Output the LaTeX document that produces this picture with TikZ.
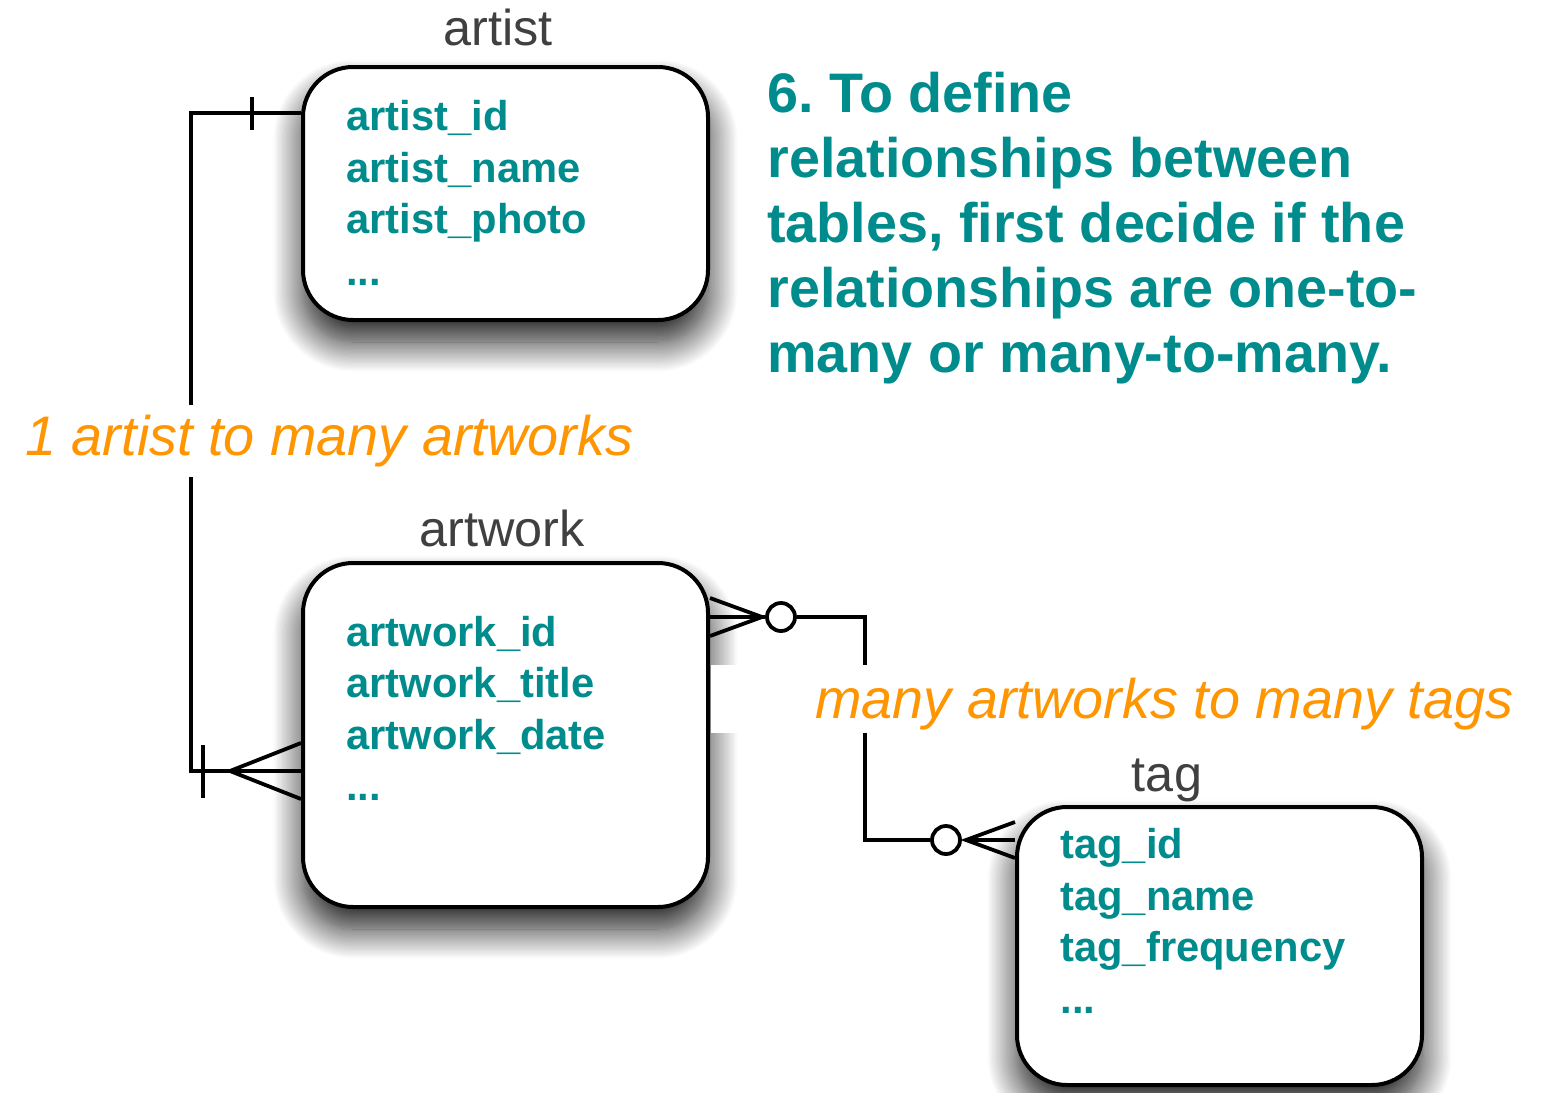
\documentclass[tikz,border=0pt]{standalone}
\usepackage{fontspec}
\setmainfont{Liberation Sans}
\usetikzlibrary{shadows.blur}
\definecolor{fieldc}{RGB}{0,140,140}
\definecolor{orng}{RGB}{255,149,0}
\definecolor{gry}{RGB}{64,64,64}
\begin{document}
\begin{tikzpicture}[x=0.5pt,y=-0.5pt,
  tbl/.style={draw=black, line width=2pt, rounded corners=25pt, fill=white,
    minimum width=202.5pt, inner sep=0pt,
    blur shadow={shadow xshift=0pt, shadow yshift=-11pt, shadow blur radius=15pt,
      shadow opacity=90, shadow blur steps=24}},
  tname/.style={text=gry, font=\fontsize{25.2}{30}\selectfont, anchor=base, inner sep=0pt},
  fld/.style={text=fieldc, font=\bfseries\fontsize{20.85}{26}\selectfont, anchor=base west, inner sep=0pt},
  ttl/.style={text=fieldc, font=\bfseries\fontsize{27.85}{32.5}\selectfont, anchor=base west, inner sep=0pt},
  rel/.style={text=orng, font=\itshape\fontsize{27.9}{32}\selectfont, anchor=base west},
  conn/.style={line width=1.9pt, line join=miter},
  ring/.style={circle, draw=black, line width=1.9pt, fill=white, minimum size=14pt, inner sep=0pt}
]
\useasboundingbox (0,0) rectangle (1560,1093);

% tables
\node[tbl, minimum height=126.5pt] (artist) at (505.5,193.5) {};
\node[tbl, minimum height=172pt] (artwork) at (505.5,735) {};
\node[tbl, minimum height=139pt] (tag) at (1219.5,946) {};

% white band behind the many-to-many label
\fill[white] (711,665) rectangle (1525,733);

% table names
\node[tname] (nartist) at (498,45) {artist};
\node[tname] (nartwork) at (502,546) {artwork};
\node[tname] (ntag) at (1167,791) {tag};

% fields
\node[fld] (f11) at (346,130) {artist\_id};
\node[fld] (f12) at (346,182) {artist\_name};
\node[fld] (f13) at (346,233) {artist\_photo};
\node[fld] (f14) at (346,285) {...};

\node[fld] (f21) at (346,646) {artwork\_id};
\node[fld] (f22) at (346,697) {artwork\_title};
\node[fld] (f23) at (346,749) {artwork\_date};
\node[fld] (f24) at (346,800) {...};

\node[fld] (f31) at (1060,858) {tag\_id};
\node[fld] (f32) at (1060,910) {tag\_name};
\node[fld] (f33) at (1060,961) {tag\_frequency};
\node[fld] (f34) at (1060,1013) {...};

% title
\node[ttl] (t1) at (767,112) {6.\ To define};
\node[ttl] (t2) at (767,177) {relationships between};
\node[ttl] (t3) at (767,242) {tables, first decide if the};
\node[ttl] (t4) at (767,307) {relationships are one-to-};
\node[ttl] (t5) at (767,372) {many or many-to-many.};

% one-to-many connector
\coordinate (a1) at (artist.west |- 0,113);
\coordinate (a2) at (artwork.west |- 0,771);
\coordinate (a2u) at (artwork.west |- 0,743);
\coordinate (a2d) at (artwork.west |- 0,799);
\coordinate (cf1) at (230,771);
\draw[conn] (a1) -- (191,113) -- (191,771) -- (a2);
\draw[conn] (252,97) -- (252,130);
\draw[conn] (203,745) -- (203,798);
\draw[conn] (a2u) -- (cf1) -- (a2d);
\node[rel, fill=white, inner xsep=3pt, inner ysep=5pt] (r1) at (19,455) {1 artist to many artworks};

% many-to-many connector
\node[ring] (c1) at (781,617) {};
\node[ring] (c2) at (946,840) {};
\coordinate (b1) at (artwork.east |- 0,617);
\coordinate (b1u) at (artwork.east |- 0,598);
\coordinate (b1d) at (artwork.east |- 0,636);
\coordinate (cf2) at (762,617);
\draw[conn] (b1) -- (c1.west);
\draw[conn] (b1u) -- (cf2) -- (b1d);
\coordinate (g1) at (tag.west |- 0,840);
\coordinate (g1u) at (tag.west |- 0,822);
\coordinate (g1d) at (tag.west |- 0,858);
\coordinate (cf3) at (966,840);
\draw[conn] (cf3) -- (g1);
\draw[conn] (g1u) -- (cf3) -- (g1d);
\draw[conn] (c1.east) -- (865,617) -- (865,665);
\draw[conn] (865,733) -- (865,840) -- (c2.west);
\node[rel, inner sep=0pt] (r2) at (815,718) {many artworks to many tags};
\end{tikzpicture}
\end{document}
